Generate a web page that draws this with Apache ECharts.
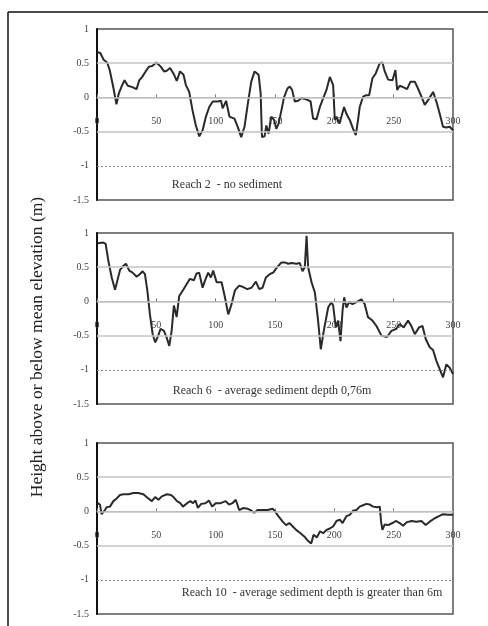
<!DOCTYPE html>
<html>
<head>
<meta charset="utf-8">
<script src="https://cdn.jsdelivr.net/npm/echarts@6/dist/echarts.min.js"></script>
<style>
html,body{margin:0;padding:0;background:#fff;}
#chart{width:488px;height:626px;}
</style>
</head>
<body>
<div id="chart"></div>
<script>
// ---- data (distance m, height m) ----
var xTicks = [0, 50, 100, 150, 200, 250, 300];
var yTicks = [-1.5, -1, -0.5, 0, 0.5, 1];
var solidGridValues = [0.5, 0, -0.5];
var dashedGridValues = [-1];

var yTitle = 'Height above or below mean elevation (m)';
var captions = [
  'Reach 2  - no sediment',
  'Reach 6  - average sediment depth 0,76m',
  'Reach 10  - average sediment depth is greater than 6m'
];

var reach2 = [
  [0.5,0.66],[2.8,0.65],[5.6,0.55],[8.5,0.51],[10.7,0.40],[13.6,0.16],[16.4,-0.10],[18.4,0.06],
  [21.2,0.18],[23.2,0.25],[26,0.17],[29.7,0.15],[33.3,0.12],[35.6,0.25],[38.1,0.30],[41.8,0.40],
  [43.8,0.45],[46.6,0.46],[50,0.51],[53.7,0.45],[56.5,0.38],[58.8,0.39],[61.6,0.43],[65,0.33],
  [67.2,0.24],[70,0.38],[72.9,0.33],[74.9,0.18],[77.7,0.08],[80.5,-0.19],[83.3,-0.41],[86.2,-0.57],
  [89,-0.48],[91.8,-0.28],[94.6,-0.14],[97.5,-0.06],[101.7,-0.06],[104.5,-0.05],[105.9,-0.16],
  [108.8,-0.05],[111.6,-0.28],[115.8,-0.31],[118.6,-0.43],[121.5,-0.58],[124.3,-0.43],[127.1,-0.09],
  [130,0.23],[132.8,0.38],[136.2,0.33],[137.9,0.06],[139,-0.58],[141.2,-0.57],[142.7,-0.41],
  [144.6,-0.53],[146.9,-0.28],[149.2,-0.33],[151.1,-0.46],[153.1,-0.38],[155.4,-0.19],[157.6,0.00],
  [160.5,0.13],[162.4,0.16],[164.4,0.11],[166.7,-0.06],[169.5,-0.05],[172.3,-0.01],[176.6,-0.03],
  [180,-0.06],[182.1,-0.31],[185,-0.32],[187.8,-0.14],[190.6,-0.01],[193.4,0.11],[196.2,0.30],
  [197.6,0.31],[199,0.18],[200.4,-0.33],[201.8,-0.28],[204,-0.38],[206,-0.28],[208.2,-0.14],
  [210.2,-0.24],[213,-0.33],[215.8,-0.46],[218.1,-0.55],[220,-0.33],[221.4,-0.14],[224.2,0.01],
  [226.5,0.03],[229.3,0.03],[232.1,0.28],[234.9,0.35],[238.3,0.50],[240.5,0.51],[242.5,0.38],
  [245.3,0.26],[249,0.25],[251.5,0.40],[252.9,0.11],[255.1,0.17],[258,0.15],[261.3,0.12],
  [264.2,0.23],[267.8,0.23],[270.5,0.13],[273.4,0.01],[276.2,-0.11],[279,-0.04],[283.2,0.08],
  [286,-0.06],[288.8,-0.24],[291.6,-0.43],[294.4,-0.44],[297.2,-0.43],[300,-0.48]
];

var reach6 = [
  [0.5,0.85],[5.3,0.86],[7.3,0.84],[9.5,0.60],[12.4,0.35],[15.2,0.17],[17.1,0.30],[19.4,0.46],
  [22.2,0.52],[24.4,0.55],[27.2,0.45],[30,0.42],[33.4,0.36],[36.2,0.40],[38.5,0.44],[40.4,0.40],
  [42.4,0.16],[44.6,-0.19],[46.9,-0.48],[49.1,-0.60],[51.6,-0.50],[53.6,-0.40],[56.4,-0.43],
  [58.7,-0.53],[60.9,-0.65],[62.9,-0.43],[64.8,-0.06],[67.1,-0.23],[69.3,0.08],[72.7,0.17],
  [75.5,0.25],[78.3,0.33],[81.7,0.31],[83.9,0.41],[86.1,0.42],[89,0.20],[90.9,0.30],[93.7,0.42],
  [96,0.35],[97.9,0.45],[100.8,0.28],[105,0.28],[107.8,0.06],[110.6,-0.19],[113.4,-0.04],
  [116.2,0.16],[119.8,0.23],[123.2,0.21],[126.6,0.18],[130.2,0.20],[133.9,0.29],[136.7,0.18],
  [139.5,0.20],[142.3,0.35],[145.7,0.40],[148.5,0.42],[151.8,0.50],[155.5,0.57],[158.3,0.57],
  [161.1,0.55],[163.9,0.56],[168.1,0.55],[170.9,0.56],[173.2,0.44],[175.1,0.50],[176.6,0.96],
  [177.9,0.50],[180.8,0.28],[183.6,0.13],[186.3,-0.28],[188.6,-0.70],[191.1,-0.43],[194.8,-0.09],
  [197.6,-0.01],[199,-0.06],[201.2,-0.38],[203.2,-0.28],[205.2,-0.58],[206.9,-0.14],[208.3,0.06],
  [210.2,-0.09],[212.5,-0.01],[215.3,-0.04],[218.6,-0.01],[222.8,0.03],[225.6,-0.04],[228.4,-0.23],
  [232.1,-0.28],[235.5,-0.36],[239.7,-0.50],[244.4,-0.52],[248.1,-0.43],[252.3,-0.40],[255.1,-0.33],
  [258.5,-0.38],[262.1,-0.28],[264.9,-0.36],[267.8,-0.48],[271.4,-0.38],[274.3,-0.36],[277,-0.55],
  [280.4,-0.67],[283.2,-0.71],[286,-0.87],[288.8,-0.99],[291.6,-1.11],[294.4,-0.92],[297.2,-0.97],
  [300,-1.06]
];

var reach10 = [
  [0.5,0.12],[2.5,0.10],[3.9,-0.04],[5.3,-0.06],[6.7,0.02],[8.1,0.06],[10.9,0.07],[13.8,0.15],
  [16.6,0.19],[19.4,0.24],[22.2,0.25],[26.5,0.25],[30.7,0.27],[34.9,0.27],[39.1,0.25],[42.5,0.20],
  [46.2,0.15],[49,0.21],[51.8,0.17],[54.6,0.22],[58.9,0.25],[62.3,0.24],[64.5,0.21],[67.4,0.15],
  [70.2,0.12],[72.4,0.07],[75.9,0.12],[78.7,0.15],[80.9,0.12],[83,0.16],[85,0.05],[87.8,0.11],
  [91.5,0.12],[94.3,0.16],[97.1,0.07],[100,0.12],[104.2,0.12],[108.4,0.15],[111.3,0.10],
  [114.1,0.12],[116.9,0.17],[119.8,0.02],[123.4,0.05],[126.8,0.04],[130.2,0.01],[132.5,-0.02],
  [135.3,0.02],[139.5,0.02],[143.8,0.02],[148,0.04],[150,0.00],[152.8,-0.07],[156.5,-0.15],
  [159.3,-0.20],[162.1,-0.17],[165,-0.22],[167.8,-0.27],[171.5,-0.32],[174.9,-0.37],[177.7,-0.43],
  [180.5,-0.47],[182.5,-0.34],[185.3,-0.38],[188,-0.29],[190.6,-0.32],[193.4,-0.27],[196.2,-0.25],
  [199,-0.22],[201.8,-0.14],[204.6,-0.12],[206.9,-0.17],[210.2,-0.07],[213,-0.05],[215.8,0.01],
  [218.6,0.02],[221.4,0.07],[224.2,0.09],[227,0.11],[229.9,0.10],[232.7,0.07],[236,0.06],
  [238.3,0.07],[239.4,-0.15],[240.5,-0.27],[242.5,-0.19],[245.3,-0.20],[249,-0.17],[251.8,-0.14],
  [255.1,-0.17],[258,-0.21],[260.8,-0.16],[265,-0.14],[269.2,-0.15],[273.4,-0.14],[277,-0.20],
  [280.4,-0.15],[284.6,-0.10],[288.2,-0.07],[291.6,-0.04],[295.8,-0.05],[300,-0.05]
];

var seriesData = [reach2, reach6, reach10];

// ---- layout ----
var gridTops = [29, 233, 443];
var gridH = 171;
var gridLeft = 97, gridW = 356;
var serif = '"Liberation Serif", "DejaVu Serif", serif';
// x axis sits at height 0: distance from bottom = gridH * (0 - min)/(max - min)
var zeroFromBottom = gridH * (0 - yTicks[0]) / (yTicks[yTicks.length - 1] - yTicks[0]);

var grids = [], xAxes = [], yAxes = [], series = [], graphics = [];
var capPos = [[227, 185], [272, 391], [312, 593]];

gridTops.forEach(function (top, i) {
  grids.push({
    left: gridLeft, top: top, width: gridW, height: gridH,
    show: true, borderColor: '#555', borderWidth: 1.5, backgroundColor: '#fff'
  });
  xAxes.push({
    gridIndex: i, type: 'value', position: 'bottom', offset: -zeroFromBottom,
    min: xTicks[0], max: xTicks[xTicks.length - 1], interval: 50,
    axisLine: { show: true, onZero: false, lineStyle: { color: '#aaa', width: 1 } },
    axisTick: { show: true, inside: true, length: 3, lineStyle: { color: '#777' } },
    axisLabel: { fontFamily: serif, fontSize: 10, color: '#444', margin: 19 },
    splitLine: { show: false }
  });
  yAxes.push({
    gridIndex: i, type: 'value',
    min: yTicks[0], max: yTicks[yTicks.length - 1], interval: 0.5,
    axisLine: { show: true, onZero: false, lineStyle: { color: '#111', width: 2 } },
    axisTick: { show: false },
    axisLabel: { fontFamily: serif, fontSize: 10, color: '#444', margin: 8 },
    splitLine: { show: false }
  });
  // gridlines drawn underneath the profile
  series.push({
    type: 'line', xAxisIndex: i, yAxisIndex: i, data: [], z: 1, silent: true,
    markLine: {
      silent: true, symbol: 'none', label: { show: false }, animation: false,
      data: solidGridValues.map(function (v) {
        return { yAxis: v, lineStyle: { color: '#c4c4c4', width: 1.5, type: 'solid' } };
      }).concat(dashedGridValues.map(function (v) {
        return { yAxis: v, lineStyle: { color: '#888', width: 1, type: [2, 2] } };
      }))
    }
  });
  series.push({
    type: 'line', xAxisIndex: i, yAxisIndex: i, data: seriesData[i], z: 3,
    showSymbol: false, smooth: false,
    lineStyle: { color: '#2a2a2a', width: 2 }
  });
  graphics.push({
    type: 'text', x: capPos[i][0], y: capPos[i][1],
    style: { text: captions[i], font: '12px ' + serif, fill: '#333', textAlign: 'center', textVerticalAlign: 'middle' }
  });
});

// frame
graphics.push({ type: 'line', shape: { x1: 8, y1: 12, x2: 488, y2: 12 }, style: { stroke: '#111', lineWidth: 1.5 } });
graphics.push({ type: 'line', shape: { x1: 8, y1: 12, x2: 8, y2: 626 }, style: { stroke: '#111', lineWidth: 1.5 } });
// y title
graphics.push({
  type: 'text', x: 37, y: 347, rotation: Math.PI / 2,
  style: { text: yTitle, font: '17.5px ' + serif, fill: '#222', textAlign: 'center', textVerticalAlign: 'middle' }
});

var chart = echarts.init(document.getElementById('chart'), null, { renderer: 'canvas' });
chart.setOption({
  animation: false,
  backgroundColor: '#fff',
  grid: grids, xAxis: xAxes, yAxis: yAxes, series: series,
  graphic: graphics
});
</script>
</body>
</html>
